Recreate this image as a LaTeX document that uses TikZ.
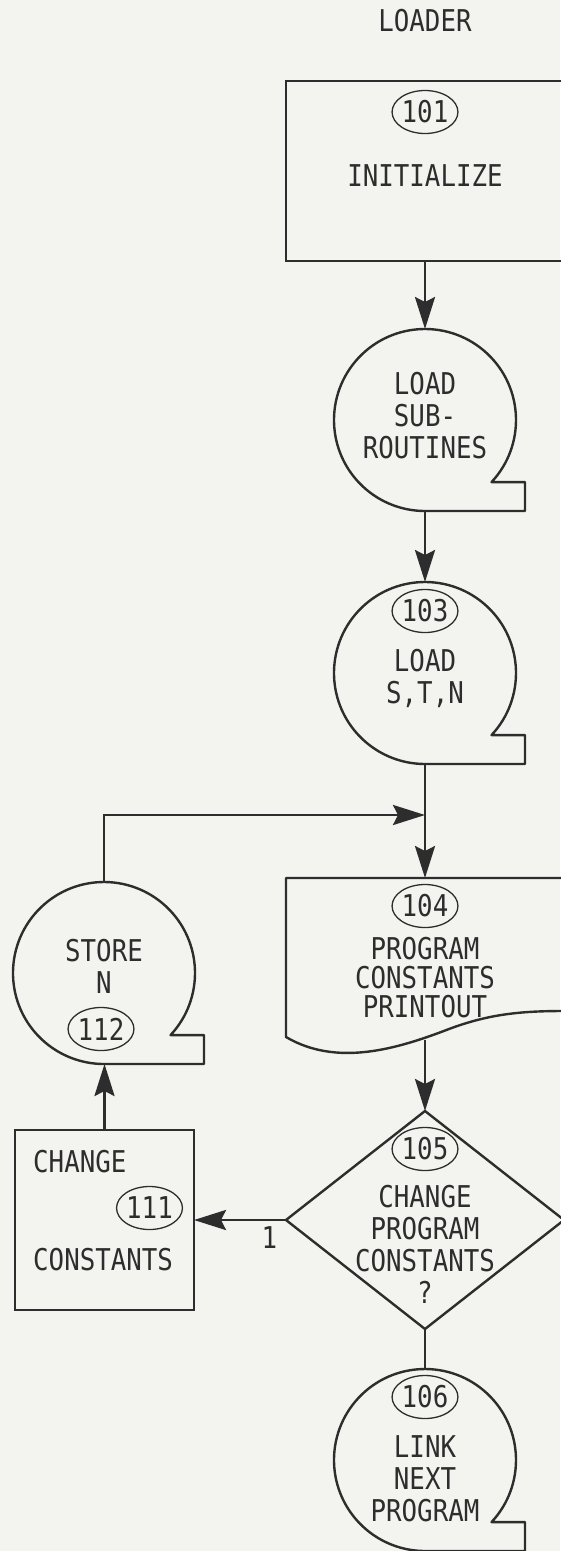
\documentclass[tikz,border=0pt]{standalone}
\usepackage{fontspec}
\newfontfamily\chartfont{DejaVu Sans Mono}[FakeStretch=0.86]
\usepackage{tikz}
\usetikzlibrary{arrows.meta,positioning,shapes.geometric}
\definecolor{paper}{RGB}{243,243,239}
\definecolor{ink}{RGB}{45,45,45}

\begin{document}
\begin{tikzpicture}[
  x=1pt, y=1pt, color=ink,
  box/.style={rectangle, draw, line width=2.4pt, minimum width=278pt, minimum height=180pt, inner sep=0pt, outer sep=0pt},
  tape/.style={circle, minimum size=182pt, inner sep=0pt, outer sep=0pt},
  num/.style={ellipse, draw, line width=1.3pt, minimum width=62pt, minimum height=43pt, inner sep=0pt, font=\chartfont\fontsize{30}{32}\selectfont},
  txt/.style={align=center, inner sep=0pt, font=\chartfont\fontsize{30}{32}\selectfont},
  rim/.style={line width=2.4pt, line join=round},
  arr/.style={-{Stealth[length=32pt, width=20pt, inset=5pt]}, line width=2.8pt}
]
\fill[paper] (0,0) rectangle (560,-1551);
\useasboundingbox (0,0) rectangle (560,-1551);

% main column
\node[txt] (title) at (425,-21) {LOADER};
\node[box] (init) at (425,-171) {};
\node[num] (n101) at ([yshift=-31pt]init.north) {101};
\node[txt] (t101) at ([yshift=-5pt]init.center) {INITIALIZE};

\node[tape, below=68pt of init] (sub) {};
\node[txt] (t102) at ([yshift=4pt]sub.center) {LOAD\\SUB-\\ROUTINES};

\node[tape, below=71pt of sub] (lst) {};
\node[num] (n103) at ([yshift=-29pt]lst.north) {103};
\node[txt] (t103) at ([yshift=-5pt]lst.center) {LOAD\\S,T,N};
\coordinate[below=51pt of lst] (join);

\node[rectangle, minimum width=278pt, minimum height=162pt, inner sep=0pt, outer sep=0pt, below=114pt of lst] (prt) {};
\node[num] (n104) at ([yshift=-28pt]prt.north) {104};
\node[txt, font=\chartfont\fontsize{30}{29}\selectfont] (t104) at ([yshift=-19pt]prt.center) {PROGRAM\\CONSTANTS\\PRINTOUT};

\node[diamond, draw, line width=2.4pt, minimum width=278pt, minimum height=218pt, inner sep=0pt, outer sep=0pt, below=71pt of prt] (dec) {};
\node[num] (n105) at ([yshift=-38pt]dec.north) {105};
\node[txt] (t105) at ([yshift=-24pt]dec.center) {CHANGE\\PROGRAM\\CONSTANTS\\?};

\node[tape, below=40pt of dec] (link) {};
\node[num] (n106) at ([yshift=-28pt]link.north) {106};
\node[txt] (t106) at ([yshift=-19pt]link.center) {LINK\\NEXT\\PROGRAM};

% side branch
\node[tape, left=91pt of prt, yshift=-14pt] (store) {};
\node[txt] (t112) at ([yshift=7pt]store.center) {STORE\\N};
\node[num] (n112) at ([xshift=-3pt, yshift=-56pt]store.center) {112};

\node[box, minimum width=179pt, left=92pt of dec] (chg) {};
\node[txt, anchor=west] (t111a) at ([xshift=18pt, yshift=58pt]chg.west) {CHANGE};
\node[num] (n111) at ([xshift=45pt, yshift=12pt]chg.center) {111};
\node[txt, anchor=west] (t111b) at ([xshift=18pt, yshift=-40pt]chg.west) {CONSTANTS};

% outlines
\foreach \t in {sub,lst,store,link}
  \draw[rim] (\t.-43) arc[start angle=-43, end angle=270, radius=91pt] -- ++(100pt,0) |- (\t.-43) -- cycle;
\draw[rim] (prt.north east) -- (prt.north west) -- ([yshift=3pt]prt.south west)
  .. controls ([shift={(51pt,-27pt)}]prt.south west) and ([shift={(111pt,-9pt)}]prt.south west) .. ([shift={(163pt,11pt)}]prt.south west)
  .. controls ([shift={(203pt,26pt)}]prt.south west) and ([shift={(235pt,29pt)}]prt.south west) .. ([shift={(278pt,29pt)}]prt.south west)
  -- (prt.north east);

% connectors
\draw[arr] (init) -- (sub);
\draw[arr] (sub) -- (lst);
\draw[arr] (lst) -- (prt);
\draw[arr] (prt.south) -- (dec);
\draw[line width=2.8pt] (dec) -- (link);
\draw[arr] (dec.west) -- node[txt, below=5pt, pos=0.18] {1} (dec.west -| chg.east);
\draw[arr] (chg.north) -- (chg.north |- store.south);
\draw[arr] (store.north) |- (join);
\end{tikzpicture}
\end{document}
